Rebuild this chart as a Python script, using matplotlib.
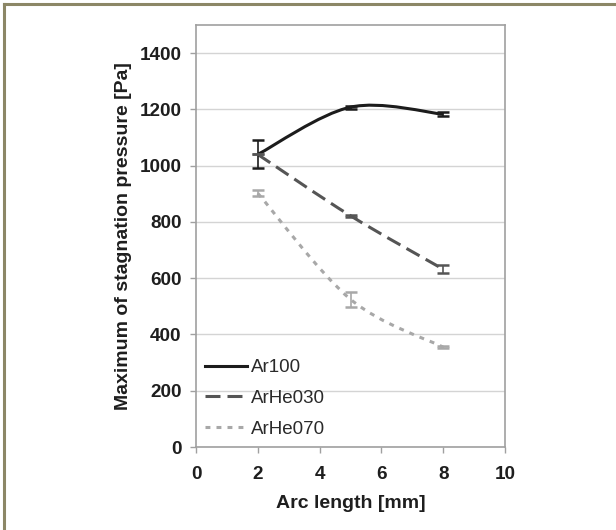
import numpy as np
import matplotlib
matplotlib.use("Agg")
import matplotlib.pyplot as plt
from matplotlib.path import Path
from matplotlib.patches import PathPatch
from matplotlib.lines import Line2D

plt.rcParams['font.family'] = ['Liberation Sans', 'DejaVu Sans']

arc = [2, 5, 8]
ar100 = [1040, 1208, 1183]
ar100_err = [50, 5, 8]
arhe030 = [1040, 822, 632]
arhe030_err = [0, 4, 15]
arhe070 = [902, 525, 355]
arhe070_err = [10, 27, 4]
labels = ["Ar100", "ArHe030", "ArHe070"]
colors = ["#1c1c1c", "#555555", "#a8a8a8"]
styles = ["-", (0, (4.9, 2.3)), (0, (1.6, 2.0))]

W, H = 616, 530
fig = plt.figure(figsize=(W/100, H/100), dpi=100)
# outer frame (top and left edges only)
border = "#8c8766"
fig.add_artist(Line2D([4/W, 1], [1-4/H, 1-4/H], transform=fig.transFigure,
                      color=border, linewidth=2.2))
fig.add_artist(Line2D([4/W, 4/W], [0, 1-4/H], transform=fig.transFigure,
                      color=border, linewidth=2.2))

ax = fig.add_axes([196/W, 1-447/H, (505-196)/W, (447-25)/H])


def smooth_path(xs, ys, t=1/6):
    # Excel-like smoothed line through the given points (cubic Bezier)
    xs = np.asarray(xs, float); ys = np.asarray(ys, float)
    n = len(xs)
    verts = [(xs[0], ys[0])]
    codes = [Path.MOVETO]
    for i in range(n - 1):
        p0 = np.array([xs[max(i-1, 0)], ys[max(i-1, 0)]])
        p1 = np.array([xs[i], ys[i]])
        p2 = np.array([xs[i+1], ys[i+1]])
        p3 = np.array([xs[min(i+2, n-1)], ys[min(i+2, n-1)]])
        c1 = p1 + (p2 - p0) * t
        c2 = p2 - (p3 - p1) * t
        verts += [tuple(c1), tuple(c2), tuple(p2)]
        codes += [Path.CURVE4] * 3
    return Path(verts, codes)


series = [(ar100, ar100_err), (arhe030, arhe030_err), (arhe070, arhe070_err)]
for (vals, err), lab, c, ls in zip(series, labels, colors, styles):
    patch = PathPatch(smooth_path(arc, vals), fill=False, edgecolor=c,
                      linewidth=2.2, linestyle=ls, zorder=3, capstyle="butt")
    ax.add_patch(patch)
    ax.errorbar(arc, vals, yerr=err, fmt="none", ecolor=c, elinewidth=1.2,
                capsize=4, capthick=1.8, zorder=4)

ax.set_xlim(0, 10)
ax.set_ylim(0, 1500)
ax.set_xticks([0, 2, 4, 6, 8, 10])
ax.set_yticks(range(0, 1401, 200))
ax.yaxis.grid(True, color="#d4d4d4", linewidth=1.0)
ax.set_axisbelow(True)
for s in ax.spines.values():
    s.set_color("#a0a0a0")
    s.set_linewidth(1.2)
ax.tick_params(axis="both", colors="#a0a0a0", labelcolor="#1e1e1e",
               labelsize=13.6, length=4.5, width=1, pad=6)
ax.tick_params(axis="x", pad=9)
for lbl in ax.get_xticklabels() + ax.get_yticklabels():
    lbl.set_fontweight("bold")
ax.set_xlabel("Arc length [mm]", fontsize=14, fontweight="bold", color="#1e1e1e", labelpad=9)
ax.set_ylabel("Maximum of stagnation pressure [Pa]", fontsize=14, fontweight="bold",
              color="#1e1e1e", labelpad=5)

handles = [Line2D([], [], color=c, linestyle=ls, linewidth=2.2) for c, ls in zip(colors, styles)]
ax.legend(handles, labels, loc="lower left", frameon=False, fontsize=13.5,
          handlelength=2.2, handletextpad=0.25, labelspacing=0.72,
          borderaxespad=0.1, bbox_to_anchor=(0.0, 0.0), labelcolor="#2a2a2a")

fig.savefig("out.png", dpi=100, facecolor="white")
